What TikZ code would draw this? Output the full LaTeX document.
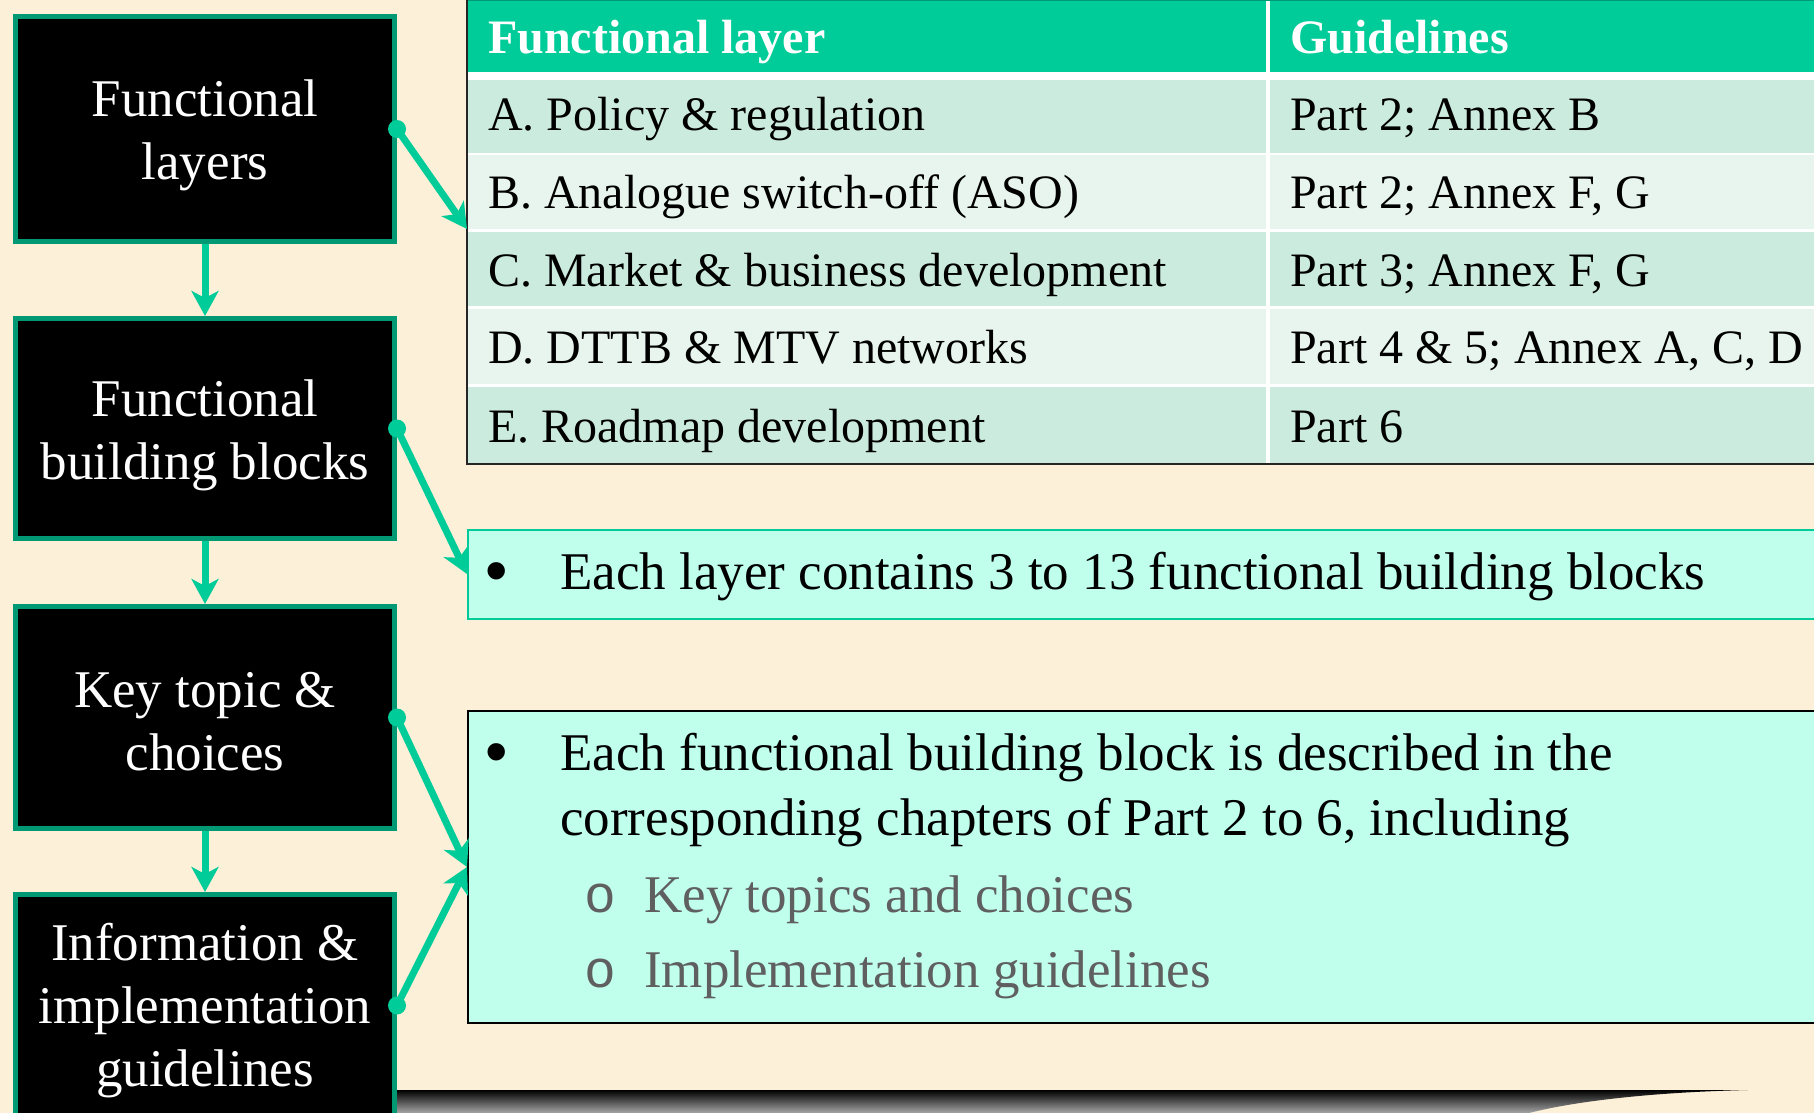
\documentclass[tikz,border=0pt]{standalone}
\usepackage{fontspec}
\setmainfont{Liberation Serif}
\newfontfamily\subbulletfont{Liberation Mono}
\newfontfamily\bulletfont{Liberation Sans}
\usetikzlibrary{arrows.meta}
\definecolor{bg}{HTML}{FCF0D8}
\definecolor{boxborder}{HTML}{009973}
\definecolor{arrowgreen}{HTML}{00CC99}
\definecolor{hdr}{HTML}{00CC99}
\definecolor{rowdark}{HTML}{CCEBDF}
\definecolor{rowlight}{HTML}{E8F5EF}
\definecolor{aqua}{HTML}{C0FFEB}
\definecolor{subgray}{HTML}{5F5F5F}
\begin{document}
\begin{tikzpicture}[x=1pt,y=-1pt,
  leftbox/.style={draw=boxborder, line width=5pt, fill=black, minimum width=379pt, inner sep=0pt},
  boxtext/.style={text=white, align=center, inner sep=0pt, font=\fontsize{53}{63}\selectfont},
  conn/.style={draw=arrowgreen, line width=7pt, -{Stealth[length=25pt,width=27pt,inset=7pt]}},
  startdot/.style={fill=arrowgreen},
  cell/.style={anchor=north west, inner sep=0pt, outer sep=0pt},
  celltext/.style={anchor=base west, inner sep=0pt, font=\fontsize{48}{58}\selectfont},
  hdrtext/.style={anchor=base west, inner sep=0pt, text=white, font=\fontsize{48}{58}\selectfont\bfseries},
  bodytext/.style={anchor=base west, inner sep=0pt, font=\fontsize{53}{64}\selectfont},
  bulletmark/.style={anchor=base west, inner sep=0pt, font=\fontsize{64}{64}\bulletfont},
  subtext/.style={anchor=base west, inner sep=0pt, text=subgray, font=\fontsize{53}{64}\selectfont},
  bulletbox/.style={fill=aqua, line width=2pt, minimum width=1362pt, inner sep=0pt},
]
% background
\fill[bg] (0,0) rectangle (1814,1113);
\useasboundingbox (0,0) rectangle (1814,1113);

% bottom shadow
\shade[top color=black, bottom color=black!35] (395,1090) -- (1748,1090)
  .. controls (1660,1092) and (1580,1100) .. (1529,1113) -- (395,1113) -- cycle;

% table
\fill[white] (467,0) rectangle (1814,464);
\node[cell, fill=hdr, minimum width=799pt, minimum height=72pt] (h1) at (467,0) {};
\node[cell, fill=hdr, minimum width=550pt, minimum height=72pt] (h2) at (1270,0) {};
\node[cell, fill=rowdark, minimum width=799pt, minimum height=73pt] (rowA) at (467,80) {};
\node[cell, fill=rowdark, minimum width=550pt, minimum height=73pt] (rowA2) at (1270,80) {};
\node[cell, fill=rowlight, minimum width=799pt, minimum height=74pt] (rowB) at (467,155) {};
\node[cell, fill=rowlight, minimum width=550pt, minimum height=74pt] (rowB2) at (1270,155) {};
\node[cell, fill=rowdark, minimum width=799pt, minimum height=74pt] (rowC) at (467,232) {};
\node[cell, fill=rowdark, minimum width=550pt, minimum height=74pt] (rowC2) at (1270,232) {};
\node[cell, fill=rowlight, minimum width=799pt, minimum height=75pt] (rowD) at (467,309) {};
\node[cell, fill=rowlight, minimum width=550pt, minimum height=75pt] (rowD2) at (1270,309) {};
\node[cell, fill=rowdark, minimum width=799pt, minimum height=76pt] (rowE) at (467,387) {};
\node[cell, fill=rowdark, minimum width=550pt, minimum height=76pt] (rowE2) at (1270,387) {};
\draw[boxborder, line width=1.5pt] (467,0.75) -- (1814,0.75);
\draw[black!85, line width=1.8pt] (467,0) -- (467,464) -- (1814,464);

\node[hdrtext] (th1) at (488,54) {Functional layer};
\node[hdrtext] (th2) at (1290,54) {Guidelines};
\node[celltext] (tA1) at (488,131) {A. Policy \& regulation};
\node[celltext] (tA2) at (1290,131) {Part 2; Annex B};
\node[celltext] (tB1) at (488,208) {B. Analogue switch-off (ASO)};
\node[celltext] (tB2) at (1290,208) {Part 2; Annex F, G};
\node[celltext] (tC1) at (488,286) {C. Market \& business development};
\node[celltext] (tC2) at (1290,286) {Part 3; Annex F, G};
\node[celltext] (tD1) at (488,363) {D. DTTB \& MTV networks};
\node[celltext] (tD2) at (1290,363) {Part 4 \& 5; Annex A, C, D};
\node[celltext] (tE1) at (488,442) {E. Roadmap development};
\node[celltext] (tE2) at (1290,442) {Part 6};

% bullet boxes
\node[bulletbox, draw=arrowgreen, minimum height=89pt] (b1) at (1149,574) {};
\node[bulletmark] (b1dot) at (485,592) {•};
\node[bodytext] (b1t) at (560,589) {Each layer contains 3 to 13 functional building blocks};

\node[bulletbox, draw=black, minimum height=312pt] (b2) at (1149,867) {};
\node[bulletmark] (b2dot) at (485,773) {•};
\node[bodytext] (b2t1) at (560,770) {Each functional building block is described in the};
\node[bodytext] (b2t2) at (560,835) {corresponding chapters of Part 2 to 6, including};
\node[subtext, font=\fontsize{53}{64}\subbulletfont] (s1o) at (584,912) {o};
\node[subtext] (s1) at (644,912) {Key topics and choices};
\node[subtext, font=\fontsize{53}{64}\subbulletfont] (s2o) at (584,987) {o};
\node[subtext] (s2) at (644,987) {Implementation guidelines};

% left boxes
\node[leftbox, minimum height=225pt] (box1) at (205,129) {};
\node[leftbox, minimum height=220pt] (box2) at (205,428.5) {};
\node[leftbox, minimum height=222pt] (box3) at (205,717.5) {};
\node[leftbox, minimum height=222pt] (box4) at (205,1005.5) {};
\node[boxtext] (box1t) at ([yshift=-6pt]box1.center) {Functional\\layers};
\node[boxtext] (box2t) at ([yshift=-7pt]box2.center) {Functional\\building blocks};
\node[boxtext] (box3t) at ([yshift=-4pt]box3.center) {Key topic \&\\choices};
\node[boxtext] (box4t) at ([yshift=-5pt]box4.center) {Information \&\\implementation\\guidelines};

% vertical connectors
\draw[conn] (box1.south) -- (box2.north);
\draw[conn] (box2.south) -- (box3.north);
\draw[conn] (box3.south) -- (box4.north);

% diagonal connectors
\fill[startdot] (box1.east) circle (9);
\draw[conn] (box1.east) -- (rowB.south west);
\fill[startdot] (box2.east) circle (9);
\draw[conn] (box2.east) -- (b1.west);
\fill[startdot] (box3.east) circle (9);
\draw[conn] (box3.east) -- (b2.west);
\fill[startdot] (box4.east) circle (9);
\draw[conn] (box4.east) -- (b2.west);
\end{tikzpicture}
\end{document}
